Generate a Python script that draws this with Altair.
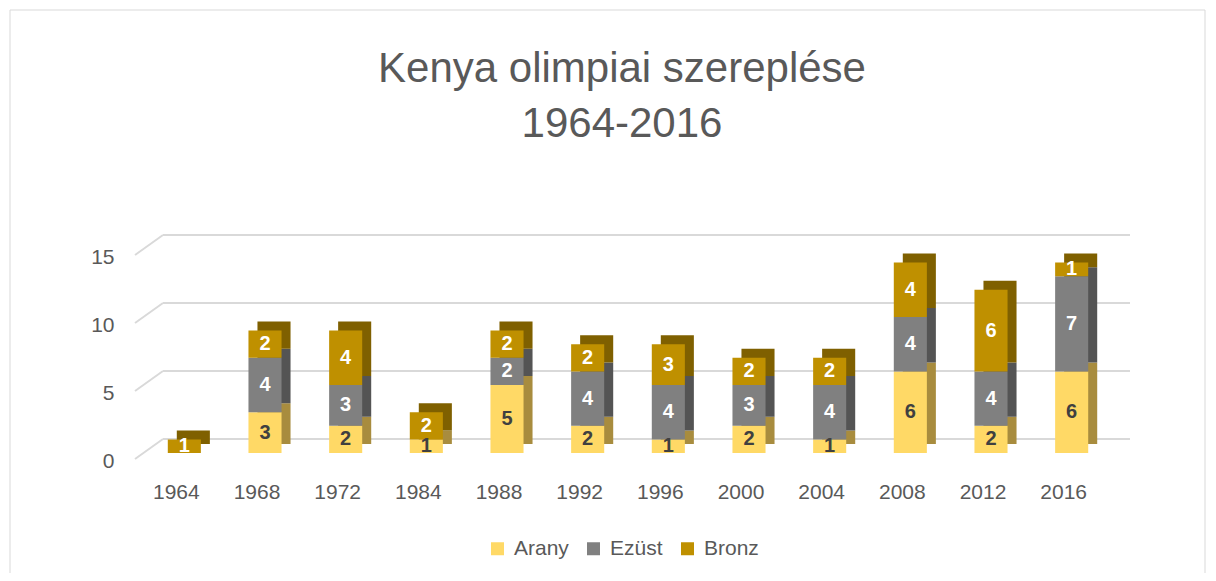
import altair as alt
import pandas as pd

years = ["1964", "1968", "1972", "1984", "1988", "1992", "1996", "2000", "2004", "2008", "2012", "2016"]
arany = [0, 3, 2, 1, 5, 2, 1, 2, 1, 6, 2, 6]
ezust = [0, 4, 3, 0, 2, 4, 4, 3, 4, 4, 4, 7]
bronz = [1, 2, 4, 2, 2, 2, 3, 2, 2, 4, 6, 1]
medals = ["Arany", "Ezüst", "Bronz"]
y_ticks = [0, 5, 10, 15]

front_colors = ["#FFD966", "#808080", "#BF9000"]
side_colors = ["#A88C3E", "#545454", "#7F6000"]
FONT = "Liberation Sans"
TXT = "#595959"

rows = []
for i, y in enumerate(years):
    for k, (m, vals) in enumerate(zip(medals, [arany, ezust, bronz])):
        rows.append({"year": y, "medal": m, "ord": k, "value": vals[i]})
df = pd.DataFrame(rows)
grid_df = pd.DataFrame({"v": y_ticks})

xscale = alt.Scale(domain=years, paddingInner=0.59, paddingOuter=0.295)
yscale = alt.Scale(domain=[0, 15])
x_axis = alt.Axis(labelAngle=0, domain=False, ticks=False, grid=False, labelPadding=28,
                  labelOffset=-8, labelFontSize=21, labelColor=TXT, labelFont=FONT)
y_axis = alt.Axis(values=y_ticks, grid=False, domain=False, ticks=False,
                  labelPadding=30, labelOffset=8, labelFontSize=21,
                  labelColor=TXT, labelFont=FONT)

base = (
    alt.Chart(df)
    .transform_stack(stack="value", groupby=["year"],
                     sort=[alt.SortField("ord", order="ascending")], as_=["y0", "y1"])
    .transform_filter(alt.datum.value > 0)
    .transform_calculate(mid="(datum.y0 + datum.y1) / 2")
)

border = alt.Chart(grid_df).mark_rect(fillOpacity=0, stroke="#D9D9D9", strokeWidth=1).encode(
    x=alt.value(-134), x2=alt.value(1061), y=alt.value(-239), y2=alt.value(400)
).transform_filter(alt.datum.v == 0)

grid_h = alt.Chart(grid_df).mark_rule(color="#D9D9D9", strokeWidth=2, yOffset=-14).encode(
    y=alt.Y("v:Q", scale=yscale, axis=y_axis, title=None),
    x=alt.value(19), x2=alt.value(986),
)
grid_s = alt.Chart(grid_df).mark_rule(color="#D9D9D9", strokeWidth=2, yOffset=6, y2Offset=-14).encode(
    y=alt.Y("v:Q", scale=yscale, axis=y_axis, title=None),
    y2=alt.Y2("v"),
    x=alt.value(-9), x2=alt.value(19),
)

back = base.mark_bar(xOffset=9, x2Offset=9, yOffset=-9, y2Offset=-9).encode(
    x=alt.X("year:N", scale=xscale, axis=x_axis, title=None),
    y=alt.Y("y1:Q", scale=yscale, axis=y_axis, title=None),
    y2="y0:Q",
    color=alt.Color("medal:N", scale=alt.Scale(domain=medals, range=side_colors), legend=None),
)

front = base.mark_bar().encode(
    x=alt.X("year:N", scale=xscale, axis=x_axis, title=None),
    y=alt.Y("y1:Q", scale=yscale, axis=y_axis, title=None),
    y2="y0:Q",
    color=alt.Color("medal:N", scale=alt.Scale(domain=medals, range=front_colors),
                    legend=alt.Legend(title=None, orient="none", legendX=343, legendY=289,
                                      direction="horizontal", symbolType="square",
                                      symbolSize=169, symbolStrokeWidth=0, labelFontSize=21,
                                      labelColor=TXT, labelFont=FONT, columnPadding=14,
                                      labelOffset=6)),
)

labels = base.mark_text(font=FONT, fontSize=20, fontWeight="bold").encode(
    x=alt.X("year:N", scale=xscale, axis=x_axis, title=None),
    y=alt.Y("mid:Q", scale=yscale, axis=y_axis, title=None),
    text="value:Q",
    color=alt.condition(alt.datum.medal == "Arany", alt.value("#404040"), alt.value("#FFFFFF")),
)

chart = (
    alt.layer(border, grid_h, grid_s, back, front, labels)
    .resolve_scale(color="independent")
    .properties(
        width=968, height=204,
        padding={"left": 136, "top": 241, "right": 96, "bottom": 120},
        autosize="none",
        view=alt.ViewBackground(stroke="transparent", strokeWidth=0),
        title=alt.TitleParams(["Kenya olimpiai szereplése", "1964-2016"], fontSize=42,
                              fontWeight="normal", color=TXT, font=FONT, offset=-136,
                              dx=-6, lineHeight=55),
    )
    .configure_view(stroke="transparent", strokeWidth=0)
    .configure(background="white")
)

chart.save("out.html", embed_options={"renderer": "svg", "actions": False})
